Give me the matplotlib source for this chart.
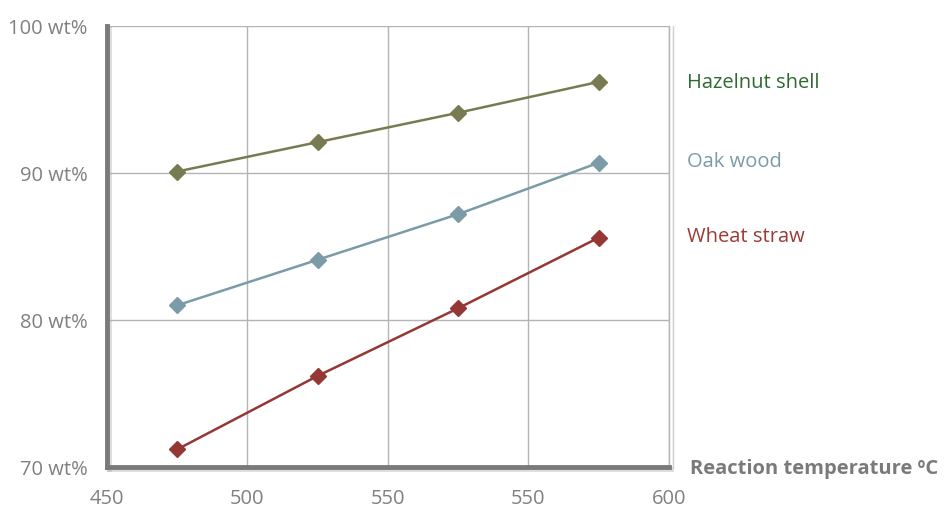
import matplotlib.pyplot as plt
import matplotlib.patheffects as pe

plt.rcParams['font.family'] = ['Open Sans', 'DejaVu Sans']

# x positions sit between the category gridlines
temps = [475, 525, 575, 625]
tick_pos = [450, 500, 550, 600, 650]
tick_labels = ['450', '500', '550', '550', '600']

hazelnut = [90.1, 92.1, 94.1, 96.2]
oak = [81.0, 84.1, 87.2, 90.7]
wheat = [71.2, 76.2, 80.8, 85.6]

names = ['Hazelnut shell', 'Oak wood', 'Wheat straw']
line_colors = ['#787b52', '#7b9ba6', '#953735']
text_colors = ['#2f6a32', '#7b9ba6', '#9b3b36']

fig = plt.figure(figsize=(9.45, 5.08), dpi=100)
ax = fig.add_axes([0.1132, 0.0807, 0.5947, 0.8681])

shadow = [pe.SimpleLineShadow(offset=(1.5, -1.5), shadow_color='#aaaaaa', alpha=0.4), pe.Normal()]

for vals, c in zip([hazelnut, oak, wheat], line_colors):
    ax.plot(temps, vals, color=c, lw=1.8, marker='D', ms=8, zorder=3)

ax.set_xlim(450, 650)
ax.set_ylim(70, 100)
ax.set_xticks(tick_pos)
ax.set_xticklabels(tick_labels)
ax.set_yticks([70, 80, 90, 100])
ax.set_yticklabels(['70 wt%', '80 wt%', '90 wt%', '100 wt%'])
ax.tick_params(length=0, labelsize=14.5, colors='#808080')
ax.tick_params(axis='x', pad=16)
ax.tick_params(axis='y', pad=14)
ax.grid(True, color='#b4b4b4', lw=1)
ax.set_axisbelow(True)

for s in ['left', 'bottom']:
    ax.spines[s].set_color('#7a7a7a')
    ax.spines[s].set_linewidth(3.5)
    ax.spines[s].set_path_effects(shadow)
ax.spines['right'].set_color('#b4b4b4')
ax.spines['right'].set_linewidth(1)
ax.spines['right'].set_path_effects(
    [pe.SimpleLineShadow(offset=(3, 0), shadow_color='#888888', alpha=0.4), pe.Normal()])
ax.spines['top'].set_visible(False)

# series labels on the right
label_y = [0.8366, 0.681, 0.5335]
for n, c, y in zip(names, text_colors, label_y):
    fig.text(0.727, y, n, color=c, fontsize=14.5, va='center', ha='left')

fig.text(0.73, 0.077, 'Reaction temperature ºC', color='#7a7a7a', fontsize=14.5,
         fontweight='bold', va='center', ha='left')

fig.savefig('out.png', dpi=100)
